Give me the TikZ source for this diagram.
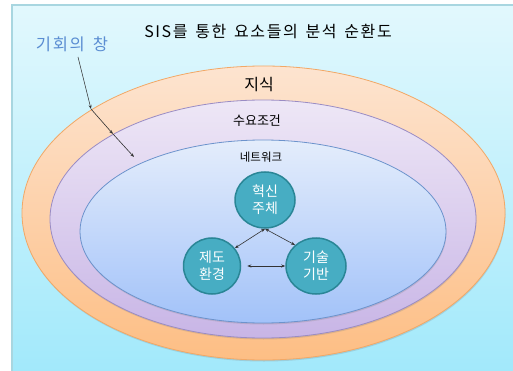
\documentclass[tikz,border=0pt]{standalone}
\usepackage{fontspec}
\newfontfamily\kr{Noto Sans CJK KR}
\newfontfamily\krw[LetterSpace=10,WordSpace=2]{Noto Sans CJK KR}
\newfontfamily\krb[LetterSpace=10,WordSpace=1.5]{Noto Sans CJK KR}
\usetikzlibrary{arrows.meta,shapes.geometric,shadows}
\definecolor{bgtop}{HTML}{E2F8FD}
\definecolor{bgbot}{HTML}{A2E9FB}
\definecolor{bgline}{HTML}{A8D6E0}
\definecolor{ortop}{HTML}{FDE4D0}
\definecolor{orbot}{HTML}{FDBE84}
\definecolor{orline}{HTML}{F2A866}
\definecolor{putop}{HTML}{EEE7F6}
\definecolor{pubot}{HTML}{C8B5E6}
\definecolor{puline}{HTML}{9A8CC4}
\definecolor{bltop}{HTML}{E4EDFB}
\definecolor{blbot}{HTML}{A2C2F9}
\definecolor{blline}{HTML}{6C93CC}
\definecolor{cfill}{HTML}{47ADC3}
\definecolor{cline}{HTML}{2A8696}
\definecolor{bluetxt}{HTML}{5A8DD2}
\begin{document}
\begin{tikzpicture}[x=1pt,y=-1pt,
  ring/.style={ellipse, inner sep=0pt, line width=0.8pt,
    drop shadow={shadow xshift=0.5pt, shadow yshift=-1.5pt, opacity=0.25}},
  agent/.style={ellipse, inner sep=0pt, minimum width=60pt, minimum height=56pt,
    fill=cfill, draw=cline, line width=1.5pt, text=white,
    font=\kr\fontsize{14}{17}\selectfont, align=center},
  lbl/.style={font=\kr, inner sep=0pt},
  dbl/.style={{Stealth[length=4pt,width=3pt]}-{Stealth[length=4pt,width=3pt]}, line width=0.6pt, draw=black!80},
  ptr/.style={-{Stealth[length=4pt,width=3pt]}, line width=0.6pt, draw=black!80}
]
\useasboundingbox (0,0) rectangle (513,371);
\fill[white] (0,0) rectangle (513,371);
\shade[top color=bgtop, bottom color=bgbot] (12,5) rectangle (513,371);
\draw[bgline, line width=1.2pt] (12,371) -- (12,5) -- (513,5);

\node[ring, minimum width=483pt, minimum height=294pt, top color=ortop, bottom color=orbot, draw=orline] (outer) at (263.5,213) {};
\node[ring, minimum width=426pt, minimum height=238pt, top color=putop, bottom color=pubot, draw=puline] (middle) at (263,219) {};
\node[ring, minimum width=366pt, minimum height=183pt, top color=bltop, bottom color=blbot, draw=blline] (inner) at (263,231.5) {};

\node[lbl, font=\krw\fontsize{16}{18}\selectfont] (title) at (268,31) {SIS를 통한 요소들의 분석 순환도};
\node[lbl, font=\krb\fontsize{16.5}{18}\selectfont, text=bluetxt] (window) at (72,44) {기회의 창};
\node[lbl, font=\kr\fontsize{16}{18}\selectfont] (know) at (259,85) {지식};
\node[lbl, font=\kr\fontsize{13}{15}\selectfont] (demand) at (257,121) {수요조건};
\node[lbl, font=\kr\fontsize{11.5}{13}\selectfont] (net) at (261,157) {네트워크};

\node[agent] (top) at (265,200) {혁신\\주체};
\node[agent, minimum width=57pt] (left) at (212,266) {제도\\환경};
\node[agent] (right) at (316,266) {기술\\기반};

\coordinate (p0) at (78,57);
\coordinate (p1) at (91,109);
\coordinate (p2) at (113,134);
\coordinate (p3) at (134,157);
\draw[ptr] (p0) -- (p1);
\draw[ptr] (p1) -- (p2);
\draw[ptr] (p2) -- (p3);

\draw[dbl] (top.south) -- (left.38);
\draw[dbl] (top.south) -- (right.135);
\draw[dbl, shorten <=6pt] (left.east) -- (right.west);
\end{tikzpicture}
\end{document}
